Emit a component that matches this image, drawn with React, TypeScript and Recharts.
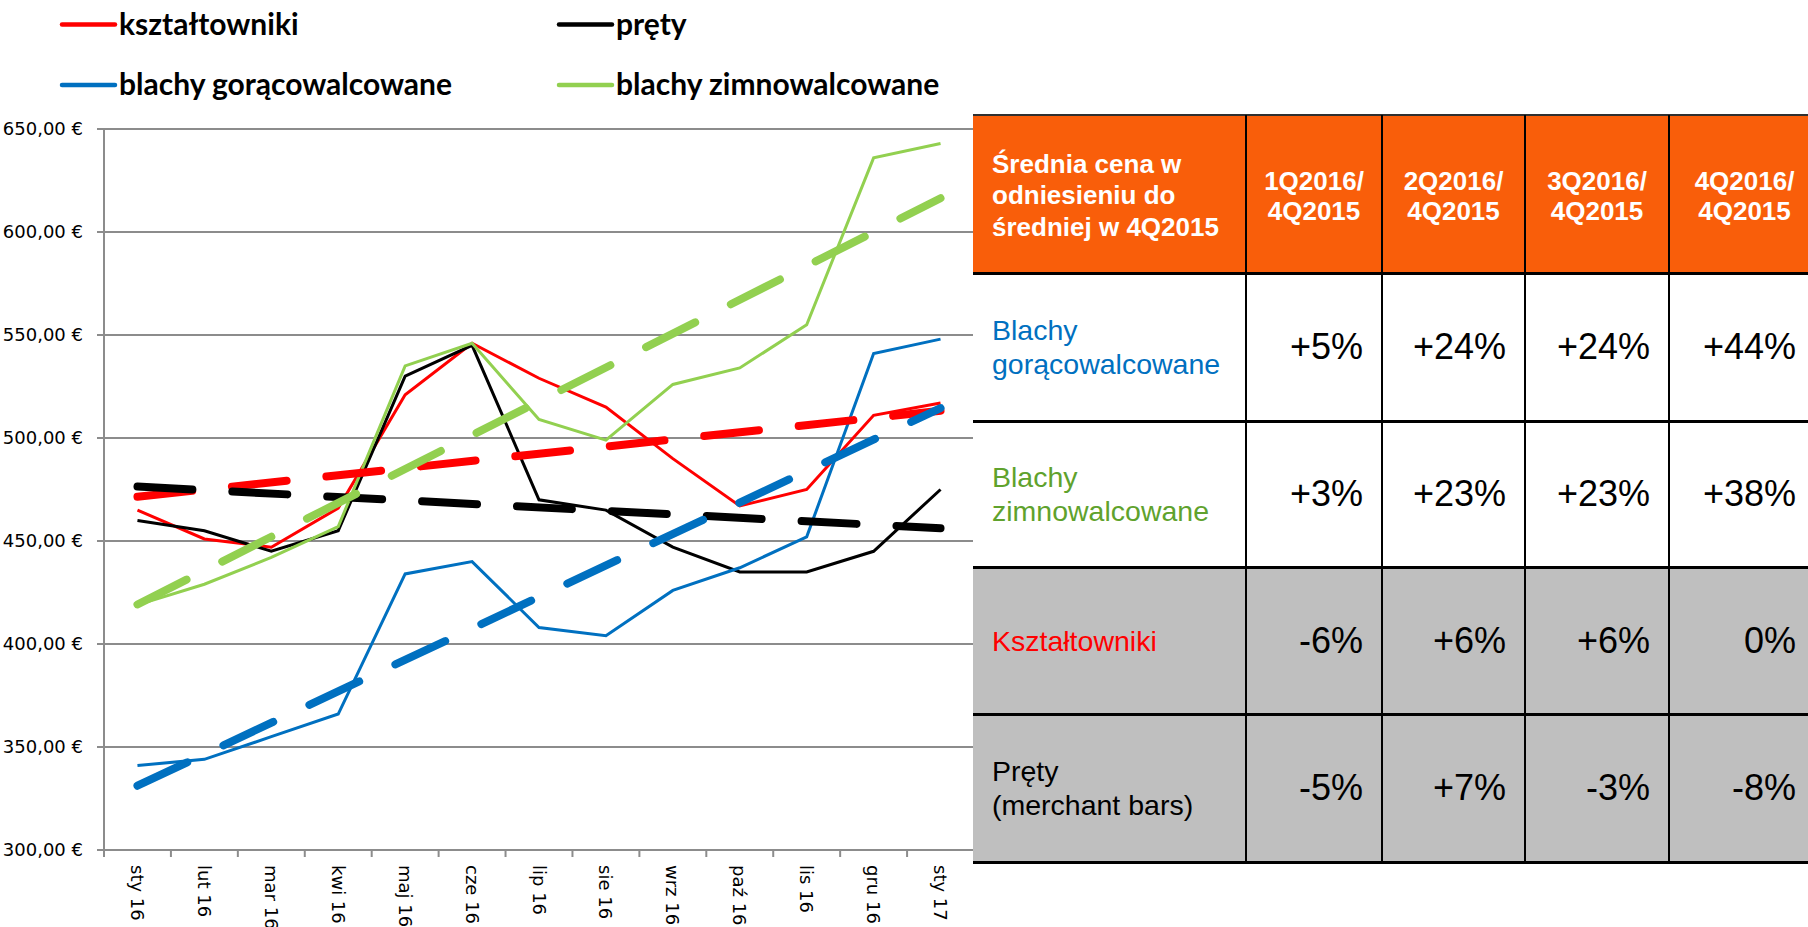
import React from 'react';
import { LineChart, Line, XAxis, YAxis, CartesianGrid } from 'recharts';

// ---------- data ----------
const categories = ['sty 16', 'lut 16', 'mar 16', 'kwi 16', 'maj 16', 'cze 16', 'lip 16', 'sie 16', 'wrz 16', 'paź 16', 'lis 16', 'gru 16', 'sty 17'];
const ksztaltowniki = [465, 451, 447, 466, 521, 546, 529, 515, 490, 467, 475, 511, 517];
const prety = [460, 455, 445, 455, 530, 545, 470, 465, 447, 435, 435, 445, 475];
const blachyGoraco = [341, 344, 355, 366, 434, 440, 408, 404, 426, 437, 452, 541, 548];
const blachyZimno = [419, 429, 442, 457, 535, 546, 509, 499, 526, 534, 555, 636, 643];
// linear trend lines: value at first and last month
const trendKsztaltowniki = [471.5, 513.2];
const trendPrety = [476.4, 456.2];
const trendGoraco = [331.2, 514.5];
const trendZimno = [419.2, 616.4];
const yTicks = [300, 350, 400, 450, 500, 550, 600, 650];

// table
const tableCorner = ['Średnia cena w', 'odniesieniu do', 'średniej w 4Q2015'];
const tableColumns = [['1Q2016/', '4Q2015'], ['2Q2016/', '4Q2015'], ['3Q2016/', '4Q2015'], ['4Q2016/', '4Q2015']];
const rowLabels = [['Blachy', 'gorącowalcowane'], ['Blachy', 'zimnowalcowane'], ['Kształtowniki'], ['Pręty', '(merchant bars)']];
const rowGoraco = ['+5%', '+24%', '+24%', '+44%'];
const rowZimno = ['+3%', '+23%', '+23%', '+38%'];
const rowKsztaltowniki = ['-6%', '+6%', '+6%', '0%'];
const rowPrety = ['-5%', '+7%', '-3%', '-8%'];

// ---------- styles ----------
const RED = '#FF0000';
const BLACK = '#000000';
const BLUE = '#0070C0';
const GREEN = '#92D050';
const GRID = '#8c8c8c';
const ORANGE = '#F95E0A';
const GRAY = '#BFBFBF';

const series = [
  { key: 'k', name: 'kształtowniki', color: RED, values: ksztaltowniki, trend: trendKsztaltowniki },
  { key: 'p', name: 'pręty', color: BLACK, values: prety, trend: trendPrety },
  { key: 'g', name: 'blachy gorącowalcowane', color: BLUE, values: blachyGoraco, trend: trendGoraco },
  { key: 'z', name: 'blachy zimnowalcowane', color: GREEN, values: blachyZimno, trend: trendZimno },
];

const data = categories.map((c, i) => {
  const row: any = { cat: c };
  series.forEach((s) => {
    row[s.key] = s.values[i];
    row[s.key + 'T'] = i === 0 ? s.trend[0] : i === categories.length - 1 ? s.trend[1] : null;
  });
  return row;
});

const CHART_W = 974;
const CHART_H = 927;
const Y_AXIS_W = 104;
const PLOT_W = CHART_W - Y_AXIS_W;
const HALF_BAND = PLOT_W / categories.length / 2;

const XTick = (props: any) => {
  const { x, y, payload, index } = props;
  const half = HALF_BAND;
  return (
    <g transform={`translate(${x},${y})`}>
      <line x1={-half} x2={-half} y1={0} y2={7} stroke={GRID} strokeWidth={2} />
      {index === categories.length - 1 && <line x1={half} x2={half} y1={0} y2={7} stroke={GRID} strokeWidth={2} />}
      <text
        transform="rotate(90)"
        x={15}
        y={0}
        dominantBaseline="central"
        textAnchor="start"
        fontFamily="DejaVu Sans"
        fontSize={18}
        fill="#000"
      >
        {payload.value}
      </text>
    </g>
  );
};

const fmtY = (v: number) => v.toFixed(2).replace('.', ',') + ' €';

const LegendBlock = () => {
  const cols = [62, 559];
  const lineY = [24.5, 85];
  const textY = [34.5, 95];
  return (
    <svg width={1000} height={110} style={{ position: 'absolute', left: 0, top: 0 }}>
      {series.map((s, i) => {
        const c = i % 2;
        const r = Math.floor(i / 2);
        return (
          <g key={s.key}>
            <line x1={cols[c]} x2={cols[c] + 53} y1={lineY[r]} y2={lineY[r]} stroke={s.color} strokeWidth={4.5} strokeLinecap="round" />
            <text x={cols[c] + 57} y={textY[r]} fontFamily="Lato" fontWeight={700} fontSize={30} fill="#000">
              {s.name}
            </text>
          </g>
        );
      })}
    </svg>
  );
};

const TABLE_X = 973;
const colEdges = [973, 1246, 1382, 1525, 1669, 1820];
const rowEdges = [115, 273, 421, 567, 714, 862];

const Table = () => {
  const rowsValues = [rowGoraco, rowZimno, rowKsztaltowniki, rowPrety];
  const rowColors = [BLUE, '#5FA22D', RED, BLACK];
  const rowBg = ['#FFFFFF', '#FFFFFF', GRAY, GRAY];
  const cells: any[] = [];
  cells.push(
    <div
      key="corner"
      style={{
        position: 'absolute', left: colEdges[0] - TABLE_X, top: 0, width: colEdges[1] - colEdges[0], height: rowEdges[1] - rowEdges[0],
        background: ORANGE, display: 'flex', flexDirection: 'column', justifyContent: 'center', paddingLeft: 19, boxSizing: 'border-box',
        color: '#fff', fontFamily: 'Liberation Sans, Arial', fontWeight: 700, fontSize: 26, lineHeight: '31.5px', paddingTop: 4,
      }}
    >
      {tableCorner.map((t) => <div key={t}>{t}</div>)}
    </div>
  );
  tableColumns.forEach((col, ci) => {
    cells.push(
      <div
        key={'h' + ci}
        style={{
          position: 'absolute', left: colEdges[ci + 1] - TABLE_X, top: 0, width: colEdges[ci + 2] - colEdges[ci + 1], height: rowEdges[1] - rowEdges[0],
          background: ORANGE, display: 'flex', flexDirection: 'column', justifyContent: 'center', alignItems: 'center', boxSizing: 'border-box',
          color: '#fff', fontFamily: 'Liberation Sans, Arial', fontWeight: 700, fontSize: 26, lineHeight: '30px', paddingTop: 4,
        }}
      >
        {col.map((t, k) => <div key={k}>{t}</div>)}
      </div>
    );
  });
  rowLabels.forEach((lab, ri) => {
    const top = rowEdges[ri + 1] - rowEdges[0];
    const h = rowEdges[ri + 2] - rowEdges[ri + 1];
    cells.push(
      <div
        key={'l' + ri}
        style={{
          position: 'absolute', left: 0, top, width: colEdges[1] - colEdges[0], height: h, background: rowBg[ri],
          display: 'flex', flexDirection: 'column', justifyContent: 'center', paddingLeft: 19, boxSizing: 'border-box',
          color: rowColors[ri], fontFamily: 'Liberation Sans, Arial', fontSize: 28.5, lineHeight: '34px',
        }}
      >
        {lab.map((t, k) => <div key={k}>{t}</div>)}
      </div>
    );
    rowsValues[ri].forEach((v, ci) => {
      cells.push(
        <div
          key={'v' + ri + '-' + ci}
          style={{
            position: 'absolute', left: colEdges[ci + 1] - TABLE_X, top, width: colEdges[ci + 2] - colEdges[ci + 1], height: h, background: rowBg[ri],
            display: 'flex', alignItems: 'center', justifyContent: 'flex-end', paddingRight: ci === 3 ? 24 : 19, boxSizing: 'border-box',
            color: '#000', fontFamily: 'Liberation Sans, Arial', fontSize: 36,
          }}
        >
          {v}
        </div>
      );
    });
  });
  rowEdges.forEach((ry, i) => {
    cells.push(
      <div key={'hl' + i} style={{ position: 'absolute', left: 0, top: ry - rowEdges[0] - (i === 0 ? 1 : 1.5), width: colEdges[5] - TABLE_X, height: i === 0 ? 2 : 3, background: i === 0 ? '#303030' : '#000' }} />
    );
  });
  colEdges.slice(1, 5).forEach((cx, i) => {
    cells.push(
      <div key={'vl' + i} style={{ position: 'absolute', left: cx - TABLE_X - 1.25, top: 0, width: 2.5, height: rowEdges[5] - rowEdges[0], background: '#000' }} />
    );
  });
  return (
    <div style={{ position: 'absolute', left: TABLE_X, top: rowEdges[0], width: colEdges[5] - TABLE_X, height: rowEdges[5] - rowEdges[0] }}>
      {cells}
    </div>
  );
};

export default function App() {
  return (
    <div style={{ position: 'fixed', left: 0, top: 0, width: 1808, height: 927, overflow: 'hidden', background: '#fff' }}>
      <LegendBlock />
      <div style={{ position: 'absolute', left: 0, top: 0 }}>
        <LineChart width={CHART_W} height={CHART_H} data={data} margin={{ top: 129, right: 0, bottom: 0, left: 0 }}>
          <CartesianGrid vertical={false} stroke={GRID} strokeWidth={2} />
          <XAxis
            dataKey="cat"
            interval={0}
            tick={<XTick />}
            tickLine={false}
            tickSize={0}
            tickMargin={0}
            height={77}
            padding={{ left: HALF_BAND, right: HALF_BAND }}
            axisLine={{ stroke: GRID, strokeWidth: 2 }}
          />
          <YAxis
            domain={[300, 650]}
            ticks={yTicks}
            interval={0}
            width={Y_AXIS_W}
            tickSize={7}
            tickMargin={14}
            tickLine={{ stroke: GRID, strokeWidth: 2 }}
            axisLine={{ stroke: GRID, strokeWidth: 2 }}
            tick={{ fontFamily: 'DejaVu Sans', fontSize: 18, fill: '#000' }}
            tickFormatter={fmtY}
          />
          {series.map((s) => (
            <Line key={s.key} dataKey={s.key} type="linear" stroke={s.color} strokeWidth={3} dot={false} activeDot={false} isAnimationActive={false} />
          ))}
          {series.map((s) => (
            <Line
              key={s.key + 'T'}
              dataKey={s.key + 'T'}
              type="linear"
              connectNulls
              stroke={s.color}
              strokeWidth={8}
              strokeDasharray="55 40"
              strokeLinecap="round"
              dot={false}
              activeDot={false}
              isAnimationActive={false}
            />
          ))}
        </LineChart>
      </div>
      <Table />
    </div>
  );
}
